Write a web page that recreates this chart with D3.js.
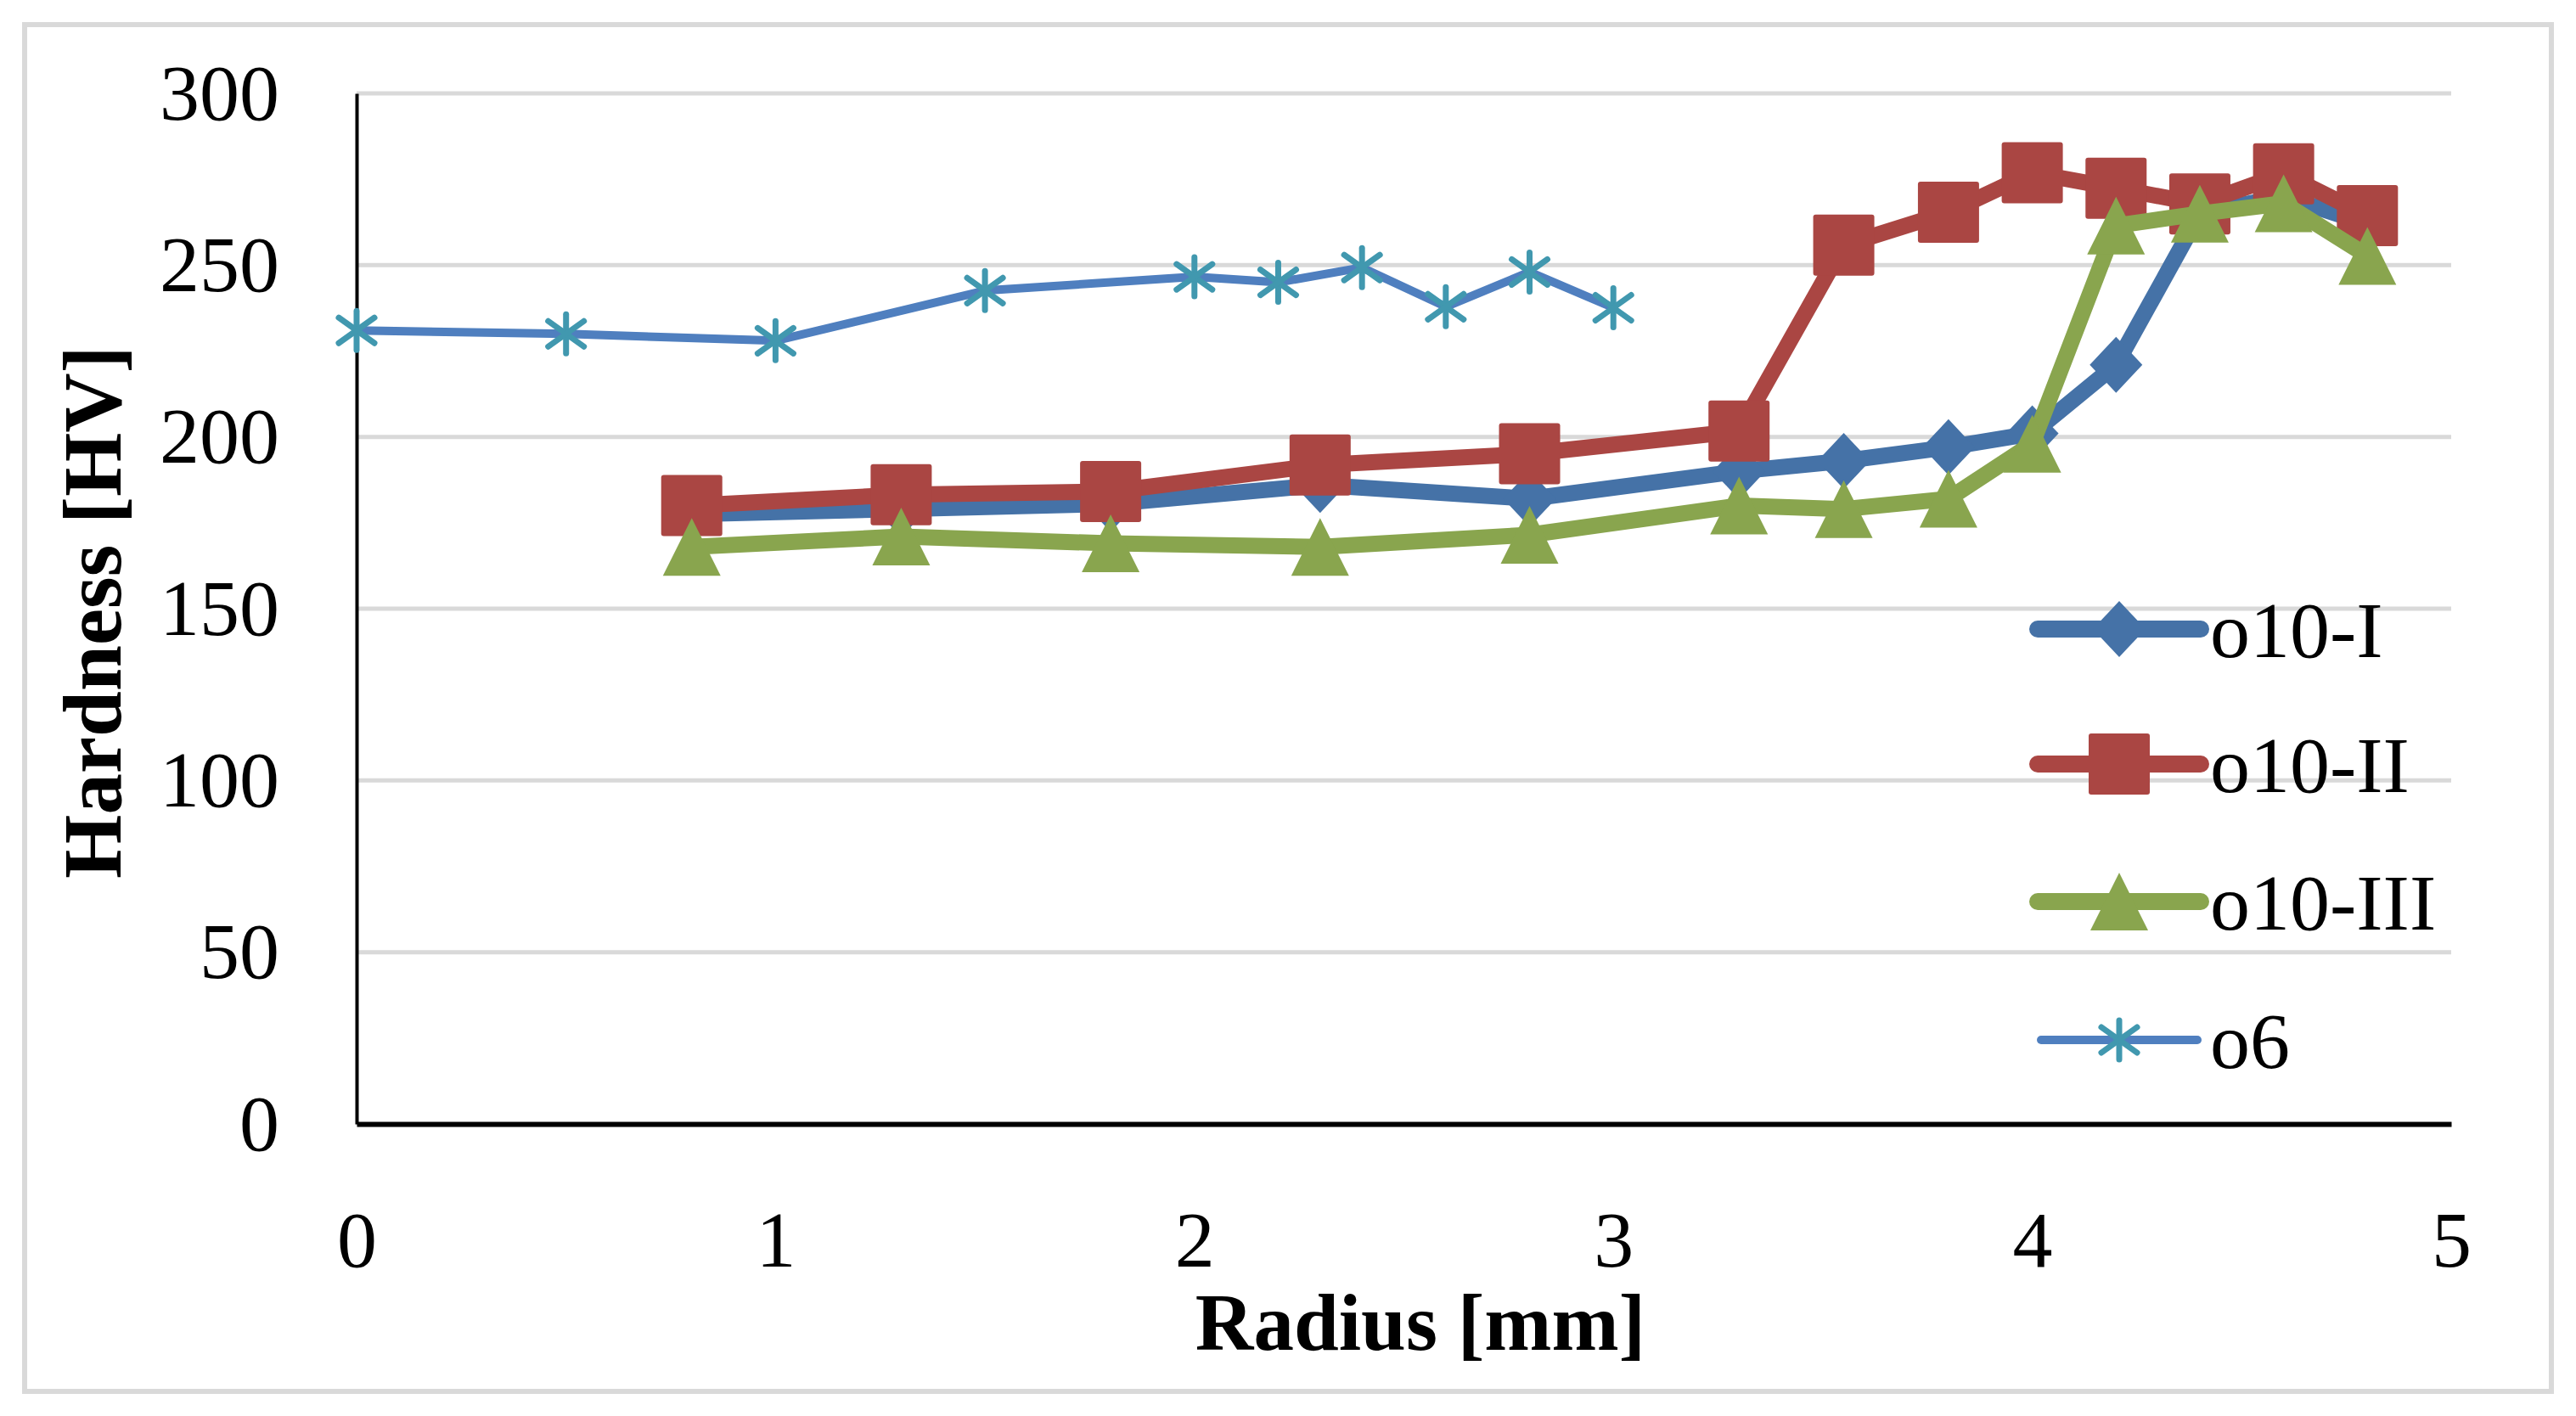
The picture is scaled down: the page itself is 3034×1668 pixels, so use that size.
<!DOCTYPE html>
<html>
<head>
<meta charset="utf-8">
<script src="https://cdn.jsdelivr.net/npm/d3@7"></script>
<style>
  html, body { margin: 0; padding: 0; background: #ffffff; }
  svg { display: block; }
</style>
</head>
<body>
<script>
// ---- data ----
const seriesNames = ["o10-I", "o10-II", "o10-III", "o6"];
const radiusO10 = [0.8, 1.3, 1.8, 2.3, 2.8, 3.3, 3.55, 3.8, 4.0, 4.2, 4.4, 4.6, 4.8];
const hardnessO10I   = [177.5, 179, 180.5, 186, 182, 190, 193, 197, 201, 221, 265, 270, 262];
const hardnessO10II  = [180, 183.2, 184.1, 191.8, 195.1, 201.7, 255.8, 265.4, 276.9, 272.4, 267.8, 276.6, 264.4];
const hardnessO10III = [168, 171, 169, 168, 171.5, 180, 179, 182, 198, 261.5, 265, 268, 252.7];
const radiusO6 = [0, 0.5, 1.0, 1.5, 2.0, 2.2, 2.4, 2.6, 2.8, 3.0];
const hardnessO6 = [231, 230, 228, 242.6, 246.6, 245, 249.3, 237.9, 248, 237.6];
const yTicks = [0, 50, 100, 150, 200, 250, 300];
const xTicks = [0, 1, 2, 3, 4, 5];
const xTitle = "Radius [mm]";
const yTitle = "Hardness [HV]";

// ---- layout ----
const W = 3034, H = 1668;
const FONT = "'Liberation Serif', 'Times New Roman', serif";
const svg = d3.select("body").append("svg").attr("width", W).attr("height", H);
svg.append("rect").attr("width", W).attr("height", H).attr("fill", "#ffffff");

// outer border
svg.append("rect").attr("x", 29).attr("y", 29).attr("width", 2976).attr("height", 1610)
  .attr("fill", "none").attr("stroke", "#d9d9d9").attr("stroke-width", 6);

const x = d3.scaleLinear().domain([0, 5]).range([420, 2887]);
const y = d3.scaleLinear().domain([0, 300]).range([1324, 110]);

// gridlines
svg.append("g").selectAll("line").data(yTicks.filter(d => d > 0)).join("line")
  .attr("x1", x(0)).attr("x2", x(5))
  .attr("y1", d => y(d)).attr("y2", d => y(d))
  .attr("stroke", "#d9d9d9").attr("stroke-width", 5);

// y axis
const gy = svg.append("g").attr("transform", `translate(${x(0)},0)`)
  .call(d3.axisLeft(y).tickValues(yTicks).tickSize(0).tickPadding(91).tickFormat(d3.format("d")));
gy.select(".domain").attr("stroke", "#000").attr("stroke-width", 4);
gy.selectAll("text").attr("font-family", FONT).attr("font-size", 94).attr("fill", "#000");

// x axis
const gx = svg.append("g").attr("transform", `translate(0,${y(0)})`)
  .call(d3.axisBottom(x).tickValues(xTicks).tickSize(0).tickPadding(101).tickFormat(d3.format("d")));
gx.select(".domain").attr("stroke", "#000").attr("stroke-width", 6);
gx.selectAll("text").attr("font-family", FONT).attr("font-size", 94).attr("fill", "#000");

// axis titles
svg.append("text").attr("x", 1673).attr("y", 1590).attr("text-anchor", "middle")
  .attr("font-family", FONT).attr("font-size", 95).attr("font-weight", "bold").attr("fill", "#000")
  .text(xTitle);
svg.append("text").attr("transform", "translate(142,721) rotate(-90)").attr("text-anchor", "middle")
  .attr("font-family", FONT).attr("font-size", 97).attr("font-weight", "bold").attr("fill", "#000")
  .text(yTitle);

// ---- marker shapes ----
function drawMarker(g, type, color) {
  if (type === "diamond") {
    g.append("path").attr("d", "M0,-33 L31,0 L0,33 L-31,0 Z").attr("fill", color);
  } else if (type === "square") {
    g.append("rect").attr("x", -36).attr("y", -36).attr("width", 72).attr("height", 72)
      .attr("rx", 3).attr("fill", color);
  } else if (type === "triangle") {
    g.append("path").attr("d", "M0,-34 L34,34 L-34,34 Z").attr("fill", color);
  } else if (type === "star") {
    const s = g.append("g").attr("stroke", color).attr("stroke-width", 7).attr("stroke-linecap", "round");
    s.append("line").attr("x1", 0).attr("y1", -23).attr("x2", 0).attr("y2", 23);
    s.append("line").attr("x1", -21).attr("y1", -15).attr("x2", 21).attr("y2", 15);
    s.append("line").attr("x1", -21).attr("y1", 15).attr("x2", 21).attr("y2", -15);
  }
}

const series = [
  { name: seriesNames[0], xs: radiusO10, ys: hardnessO10I,   line: "#4572A7", marker: "#4572A7", type: "diamond",  width: 19 },
  { name: seriesNames[1], xs: radiusO10, ys: hardnessO10II,  line: "#AA4643", marker: "#AA4643", type: "square",   width: 19 },
  { name: seriesNames[2], xs: radiusO10, ys: hardnessO10III, line: "#89A54E", marker: "#89A54E", type: "triangle", width: 19 },
  { name: seriesNames[3], xs: radiusO6,  ys: hardnessO6,     line: "#4F7FBF", marker: "#4198AF", type: "star",     width: 10 }
];

const lineGen = d3.line().x(d => x(d[0])).y(d => y(d[1]));

series.forEach(s => {
  const pts = s.xs.map((v, i) => [v, s.ys[i]]);
  const g = svg.append("g");
  g.append("path").attr("d", lineGen(pts)).attr("fill", "none")
    .attr("stroke", s.line).attr("stroke-width", s.width)
    .attr("stroke-linejoin", "round").attr("stroke-linecap", "round");
  pts.forEach(p => {
    const m = g.append("g").attr("transform", `translate(${x(p[0])},${y(p[1])})`);
    drawMarker(m, s.type, s.marker);
  });
});

// ---- legend ----
const legendY = [741, 900, 1062, 1225];
series.forEach((s, i) => {
  const g = svg.append("g").attr("transform", `translate(2496,${legendY[i]})`);
  const half = s.type === "star" ? 92 : 96;
  g.append("line").attr("x1", -half).attr("x2", half).attr("y1", 0).attr("y2", 0)
    .attr("stroke", s.line).attr("stroke-width", s.type === "star" ? 10 : 20).attr("stroke-linecap", "round");
  drawMarker(g, s.type, s.marker);
  g.append("text").attr("x", 107).attr("y", 0).attr("dy", "0.35em")
    .attr("font-family", FONT).attr("font-size", 94).attr("fill", "#000").text(s.name);
});
</script>
</body>
</html>
